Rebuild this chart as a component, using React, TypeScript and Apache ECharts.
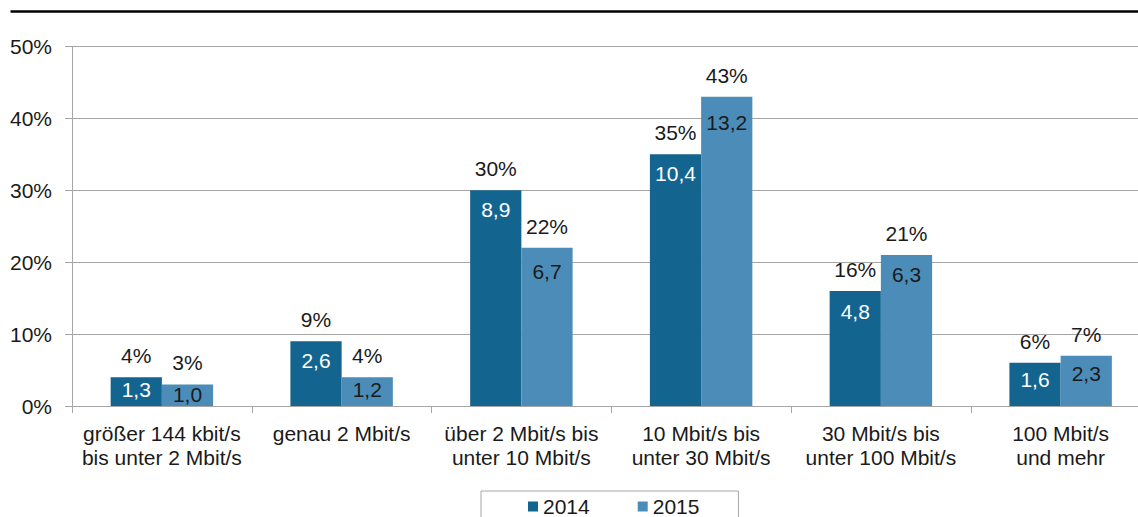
import React, { useEffect, useRef } from "react";
import * as echarts from "echarts";

// Bandwidth classes (x axis)
const categories = [
  "größer 144 kbit/s\nbis unter 2 Mbit/s",
  "genau 2 Mbit/s",
  "über 2 Mbit/s bis\nunter 10 Mbit/s",
  "10 Mbit/s bis\nunter 30 Mbit/s",
  "30 Mbit/s bis\nunter 100 Mbit/s",
  "100 Mbit/s\nund mehr",
];

const seriesNames = ["2014", "2015"];

// Share of connections in percent
const share2014 = [4, 9, 30, 35, 16, 6];
const share2015 = [3, 4, 22, 43, 21, 7];

// Absolute figures printed inside the bars
const count2014 = [1.3, 2.6, 8.9, 10.4, 4.8, 1.6];
const count2015 = [1.0, 1.2, 6.7, 13.2, 6.3, 2.3];

const yTicks = [0, 10, 20, 30, 40, 50];

// Distance of the inner value label from the bar top (px)
const innerDist2014 = [2, 8.5, 8.5, 8.5, 10, 6];
const innerDist2015 = [0, 2, 13, 15.5, 9, 7];

const COLOR_2014 = "#13658f";
const COLOR_2015 = "#4b8db8";
const FONT = 'Arial, "Liberation Sans", sans-serif';
const TEXT = "#1a1a1a";
const GRAY = "#a6a6a6";

// The plot runs slightly past the visible frame on the right
const CANVAS_W = 1170;
const VIEW_W = 1138;
const VIEW_H = 517;

const fmtComma = (v: number) => v.toFixed(1).replace(".", ",");

export default function App() {
  const ref = useRef<HTMLDivElement>(null);

  useEffect(() => {
    document.body.style.margin = "0";
    if (!ref.current) return;
    const chart = echarts.init(ref.current, undefined, { renderer: "svg" });

    const grid = { left: 72, top: 46.5, width: 1078.5, height: 359.5 };

    const outerBar = (name: string, data: number[], color: string) => ({
      name,
      type: "bar",
      xAxisIndex: 0,
      data,
      barGap: "0%",
      barCategoryGap: "43%",
      itemStyle: { color },
      label: {
        show: true,
        position: "top",
        distance: 11,
        formatter: (p: any) => `${p.value}%`,
        fontFamily: FONT,
        fontSize: 21,
        lineHeight: 21,
        color: TEXT,
      },
      silent: true,
      z: 2,
    });

    const innerBar = (
      shares: number[],
      counts: number[],
      dists: number[],
      textColor: string
    ) => ({
      type: "bar",
      xAxisIndex: 1,
      barGap: "0%",
      barCategoryGap: "43%",
      silent: true,
      z: 3,
      itemStyle: { color: "rgba(0,0,0,0)" },
      data: shares.map((v, i) => ({
        value: v,
        label: {
          show: true,
          position: "insideTop",
          distance: dists[i],
          formatter: fmtComma(counts[i]),
          fontFamily: FONT,
          fontSize: 21,
          lineHeight: 21,
          color: textColor,
        },
      })),
    });

    chart.setOption({
      animation: false,
      grid,
      legend: {
        data: seriesNames,
        left: 481,
        top: 491,
        padding: [5, 39, 20, 47],
        itemWidth: 10,
        itemHeight: 10,
        itemGap: 48,
        icon: "rect",
        borderColor: GRAY,
        borderWidth: 1,
        textStyle: { fontFamily: FONT, fontSize: 21, color: TEXT },
      },
      xAxis: [
        {
          type: "category",
          data: categories,
          axisLine: { show: true, lineStyle: { color: GRAY, width: 1 } },
          axisTick: { show: true, length: 7, lineStyle: { color: GRAY } },
          axisLabel: {
            margin: 15,
            fontFamily: FONT,
            fontSize: 21,
            lineHeight: 24,
            color: TEXT,
            interval: 0,
          },
        },
        {
          type: "category",
          data: categories,
          show: false,
        },
      ],
      yAxis: {
        type: "value",
        min: 0,
        max: 50,
        interval: 10,
        axisLine: { show: true, lineStyle: { color: GRAY, width: 1 } },
        axisTick: { show: true, length: 7, lineStyle: { color: GRAY } },
        splitLine: { show: true, lineStyle: { color: GRAY, width: 1 } },
        axisLabel: {
          margin: 20,
          fontFamily: FONT,
          fontSize: 21,
          color: TEXT,
          formatter: (v: number) => (yTicks.includes(v) ? `${v}%` : ""),
        },
      },
      graphic: [
        {
          type: "line",
          shape: { x1: 10.5, y1: 11.5, x2: CANVAS_W, y2: 11.5 },
          style: { stroke: "#000", lineWidth: 2.5 },
        },
      ],
      series: [
        outerBar(seriesNames[0], share2014, COLOR_2014),
        outerBar(seriesNames[1], share2015, COLOR_2015),
        innerBar(share2014, count2014, innerDist2014, "#ffffff"),
        innerBar(share2015, count2015, innerDist2015, TEXT),
      ],
    });

    return () => chart.dispose();
  }, []);

  return (
    <div
      style={{
        position: "absolute",
        left: 0,
        top: 0,
        width: VIEW_W,
        height: VIEW_H,
        overflow: "hidden",
      }}
    >
      <div ref={ref} style={{ width: CANVAS_W, height: VIEW_H }} />
    </div>
  );
}
